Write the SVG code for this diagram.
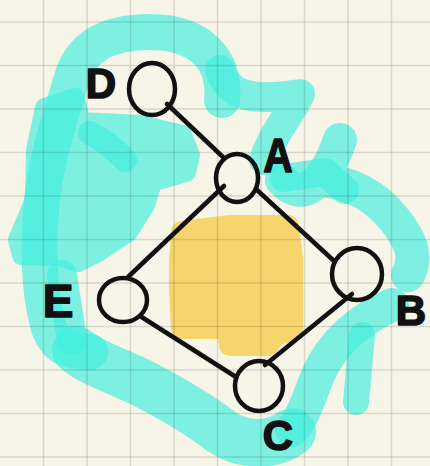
<svg xmlns="http://www.w3.org/2000/svg" width="430" height="466" viewBox="0 0 430 466">
<defs>
<style>
.cy{fill:none;stroke:#3fefdd;opacity:0.66;stroke-linecap:round;stroke-linejoin:round}
.cyf{fill:#3fefdd;stroke:#3fefdd;opacity:0.66;stroke-linecap:round;stroke-linejoin:round;stroke-width:20}
.yl{fill:#f5d56c;stroke:#f5d56c;stroke-width:22;stroke-linejoin:round;stroke-linecap:round}
.grid line{stroke:#000;stroke-opacity:0.12;stroke-width:1.5}
.ink{fill:none;stroke:#111;stroke-width:4.5;stroke-linecap:round;stroke-linejoin:round}
.lbl{font-family:"Liberation Sans",Arial,sans-serif;font-weight:bold;fill:#111;stroke:#111;stroke-width:1.6;stroke-linejoin:round;text-anchor:middle}
</style>
</defs>
<rect width="430" height="466" fill="#f7f4e8"/>
<g id="highlight-cyan">
<path class="cy" stroke-width="36" d="M222,100 C226,60 200,32 150,32 C110,32 82,45 72,78 C62,112 48,150 42,200 C38,245 38,285 48,325 C56,350 70,352 90,352"/>
<path class="cyf" d="M45,108 L75,98 L80,122 L140,125 L182,135 L190,155 L186,172 L152,182 L145,205 L128,232 L98,252 L78,262 L58,256 L22,255 L18,240 L35,200 L36,150 Z"/>
<path class="cy" stroke-width="30" d="M220,70 C228,95 250,102 300,94 C288,118 272,135 264,160"/>
<path class="cy" stroke-width="34" d="M282,180 C300,200 322,190 340,140 M320,180 C350,182 375,195 395,220 C410,240 418,255 408,275"/>
<path class="cy" stroke-width="28" d="M284,178 L325,172 L345,190"/>
<path class="cy" stroke-width="34" d="M392,305 C362,318 332,342 318,375 C308,400 302,420 292,430"/>
<path class="cy" stroke-width="26" d="M362,335 L356,402"/>
<path class="cy" stroke-width="48" d="M292,432 C270,448 242,445 222,432 C200,415 175,400 140,382 C110,368 90,362 76,350"/>
<path class="cy" stroke-width="30" d="M62,275 L72,340"/>
<path class="cy" stroke-width="24" d="M90,133 C105,140 115,150 125,160" opacity="0.5"/>
</g>
<g id="highlight-yellow">
<path class="yl" d="M182,232 L230,226 L288,226 L292,260 L292,330 L275,335 L268,345 L230,345 L228,328 L182,328 L180,290 L180,260 Z"/>
</g>
<g class="grid">
<line x1="43.5" y1="0" x2="43.5" y2="466"/><line x1="87" y1="0" x2="87" y2="466"/><line x1="130.5" y1="0" x2="130.5" y2="466"/><line x1="174" y1="0" x2="174" y2="466"/><line x1="217.5" y1="0" x2="217.5" y2="466"/><line x1="261" y1="0" x2="261" y2="466"/><line x1="304.5" y1="0" x2="304.5" y2="466"/><line x1="348" y1="0" x2="348" y2="466"/><line x1="391.5" y1="0" x2="391.5" y2="466"/>
<line x1="0" y1="22" x2="430" y2="22"/><line x1="0" y1="65.5" x2="430" y2="65.5"/><line x1="0" y1="109" x2="430" y2="109"/><line x1="0" y1="152.5" x2="430" y2="152.5"/><line x1="0" y1="196" x2="430" y2="196"/><line x1="0" y1="239.5" x2="430" y2="239.5"/><line x1="0" y1="283" x2="430" y2="283"/><line x1="0" y1="326.5" x2="430" y2="326.5"/><line x1="0" y1="370" x2="430" y2="370"/><line x1="0" y1="413.5" x2="430" y2="413.5"/><line x1="0" y1="457" x2="430" y2="457"/>
</g>
<g id="edges">
<path class="ink" d="M167,104 L224,158"/>
<path class="ink" d="M224,186 L128,277"/>
<path class="ink" d="M257,190 L333,260"/>
<path class="ink" d="M140,316 L236,377"/>
<path class="ink" d="M352,294 L265,365"/>
</g>
<g id="node-D">
<ellipse class="ink" cx="152" cy="89" rx="23" ry="26"/>
<text class="lbl" x="101" y="98" font-size="42">D</text>
</g>
<g id="node-A">
<ellipse class="ink" cx="237" cy="178" rx="21" ry="24"/>
<text class="lbl" x="278" y="172" font-size="48" transform="translate(278 0) scale(0.85 1) translate(-278 0)">A</text>
</g>
<g id="node-E">
<ellipse class="ink" cx="123" cy="300" rx="24" ry="22"/>
<text class="lbl" x="58" y="317" font-size="46">E</text>
</g>
<g id="node-B">
<ellipse class="ink" cx="357" cy="274" rx="25" ry="26"/>
<text class="lbl" x="411" y="325" font-size="42">B</text>
</g>
<g id="node-C">
<ellipse class="ink" cx="259" cy="386" rx="24" ry="25"/>
<text class="lbl" x="278" y="450" font-size="42">C</text>
</g>
</svg>
